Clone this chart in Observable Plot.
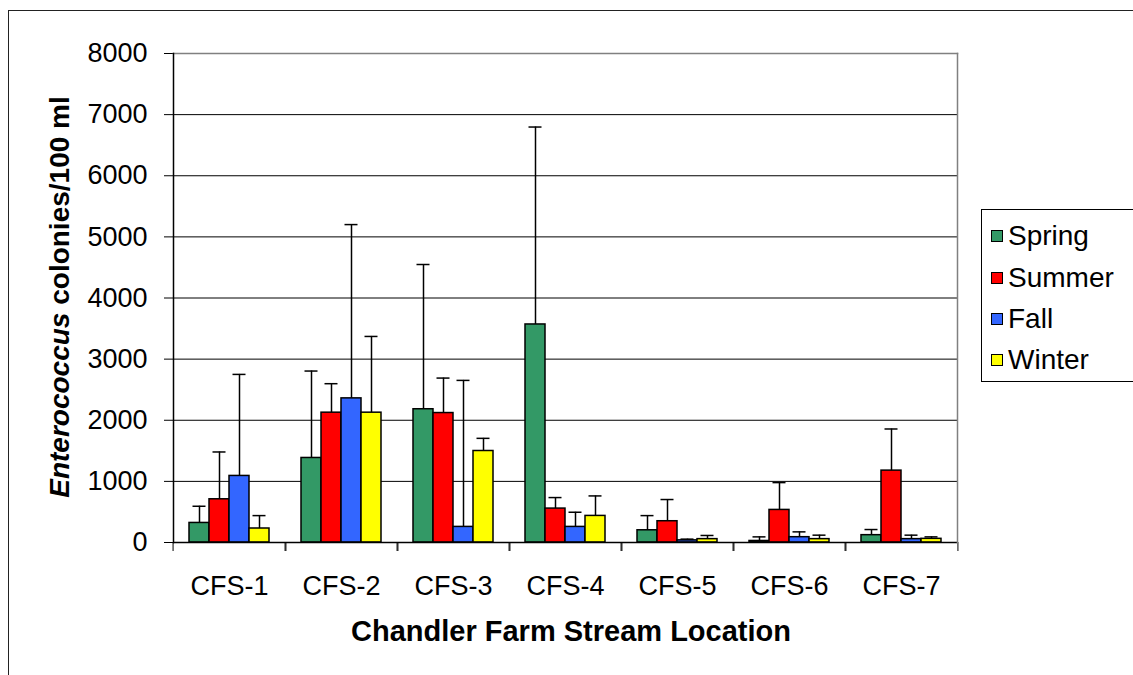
<!DOCTYPE html>
<html>
<head>
<meta charset="utf-8">
<script src="https://cdn.jsdelivr.net/npm/d3@7"></script>
<script src="https://cdn.jsdelivr.net/npm/@observablehq/plot@0.6"></script>
<style>
  html, body { margin: 0; padding: 0; background: #fff; width: 1133px; height: 675px; overflow: hidden; position: relative; font-family: "Liberation Sans", Arial, sans-serif; }
  #frame { position: absolute; left: 8px; top: 10px; width: 1300px; height: 800px; border-left: 1.5px solid #222; border-top: 1.5px solid #222; }
  #chart { position: absolute; left: 0; top: 0; }
  #ytitle { position: absolute; width: 520px; left: -200px; top: 280px; height: 34px; line-height: 34px; text-align: center; transform: rotate(-90deg); font-weight: bold; font-size: 28px; }
  #xtitle { position: absolute; width: 700px; left: 221px; top: 615px; text-align: center; font-weight: bold; font-size: 29px; }
  #legend { position: absolute; left: 981px; top: 209px; width: 170px; height: 173px; border: 1px solid #000; box-sizing: border-box; }
  .item { position: absolute; left: 9px; height: 34px; line-height: 34px; font-size: 28px; }
  .sw { display: inline-block; width: 10px; height: 10px; border: 1px solid #000; margin-right: 5px; vertical-align: middle; position: relative; top: -2px; }
</style>
</head>
<body>
<div id="frame"></div>
<div id="chart"></div>
<div id="ytitle"><i>Enterococcus</i> colonies/100 ml</div>
<div id="xtitle">Chandler Farm Stream Location</div>
<div id="legend"></div>
<script>
const sites = ["CFS-1", "CFS-2", "CFS-3", "CFS-4", "CFS-5", "CFS-6", "CFS-7"];
const seasons = ["Spring", "Summer", "Fall", "Winter"];
const seasonColors = ["#339966", "#FF0000", "#3366FF", "#FFFF00"];
const yTicks = [0, 1000, 2000, 3000, 4000, 5000, 6000, 7000, 8000];

// mean colonies/100 ml per site
const springMean = [320, 1383, 2180, 3567, 200, 25, 120];
const summerMean = [707, 2124, 2118, 555, 348, 533, 1176];
const fallMean   = [1089, 2358, 255, 255, 35, 87, 55];
const winterMean = [229, 2124, 1497, 435, 55, 55, 60];
// error bar (upper) half-length per site
const springErr = [273, 1422, 2368, 3230, 240, 67, 92];
const summerErr = [774, 474, 572, 180, 355, 447, 681];
const fallErr   = [1661, 2843, 2397, 240, 20, 87, 65];
const winterErr = [211, 1247, 207, 327, 60, 65, 32];

const means = [springMean, summerMean, fallMean, winterMean];
const errs = [springErr, summerErr, fallErr, winterErr];
const data = sites.flatMap((site, i) => seasons.map((season, j) => ({
  site, season, value: means[j][i], top: means[j][i] + errs[j][i]
})));

const W = 1133, H = 675, mL = 170, mR = 173, mT = 53, mB = 133;
const step = (W - mL - mR) / sites.length;

let marks = [
  Plot.gridY(yTicks, {stroke: "#000", strokeOpacity: 1, strokeWidth: 1}),
  Plot.barY(data, {fx: "site", x: "season", y: "value", fill: "season", stroke: "#000", strokeWidth: 1.5}),
  Plot.ruleX(data, {fx: "site", x: "season", y1: "value", y2: "top", stroke: "#000", strokeWidth: 1.5}),
  Plot.tickY(data, {fx: "site", x: "season", y: "top", stroke: "#000", strokeWidth: 1.5, insetLeft: 3.5, insetRight: 3.5}),
  Plot.ruleY([0], {stroke: "#000", strokeWidth: 1.5}),
  Plot.axisY(yTicks, {tickSize: 9, tickPadding: 17, fontSize: 27, label: null, tickFormat: d => String(d), stroke: "#000"}),
  Plot.axisFx({anchor: "bottom", tickSize: 0, tickPadding: 33, fontSize: 27, label: null}),
  Plot.axisFx({anchor: "bottom", tickSize: 9, text: null, dx: -step / 2, label: null, stroke: "#000"}),
  Plot.axisFx([sites[sites.length - 1]], {anchor: "bottom", tickSize: 9, text: null, dx: step / 2, label: null, stroke: "#000"}),
  Plot.frame({facet: "super", anchor: "top", stroke: "#808080", strokeWidth: 1.5}),
  Plot.frame({facet: "super", anchor: "right", stroke: "#808080", strokeWidth: 1.5}),
  Plot.frame({facet: "super", anchor: "left", stroke: "#000", strokeWidth: 1.5})
];

const chart = Plot.plot({
  width: W, height: H,
  marginLeft: mL, marginRight: mR, marginTop: mT, marginBottom: mB,
  style: {fontFamily: "'Liberation Sans', Arial, sans-serif", fontSize: "27px", color: "#000", background: "transparent", overflow: "visible"},
  fx: {domain: sites, padding: 0, label: null, axis: null},
  x: {domain: seasons, paddingInner: 0, paddingOuter: 0.766, axis: null},
  y: {domain: [0, 8000], label: null, axis: null},
  color: {domain: seasons, range: seasonColors},
  marks
});
document.getElementById("chart").appendChild(chart);

const legend = document.getElementById("legend");
const rowCenters = [26, 68, 109, 150];
seasons.forEach((s, i) => {
  const div = document.createElement("div");
  div.className = "item";
  div.style.top = (rowCenters[i] - 17) + "px";
  div.innerHTML = `<span class="sw" style="background:${seasonColors[i]}"></span>${s}`;
  legend.appendChild(div);
});
</script>
</body>
</html>
